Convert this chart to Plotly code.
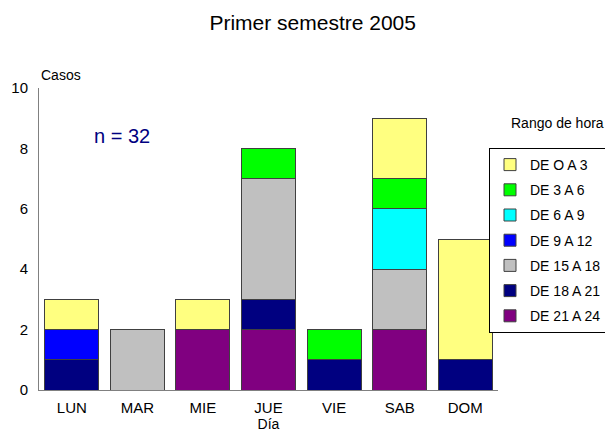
import plotly.graph_objects as go

days = ["LUN", "MAR", "MIE", "JUE", "VIE", "SAB", "DOM"]
series_names = ["DE 21 A 24", "DE 18 A 21", "DE 15 A 18", "DE 9 A 12", "DE 6 A 9", "DE 3 A 6", "DE O A 3"]
s_21_24 = [0, 0, 2, 2, 0, 2, 0]
s_18_21 = [1, 0, 0, 1, 1, 0, 1]
s_15_18 = [0, 2, 0, 4, 0, 2, 0]
s_9_12 = [1, 0, 0, 0, 0, 0, 0]
s_6_9 = [0, 0, 0, 0, 0, 2, 0]
s_3_6 = [0, 0, 0, 1, 1, 1, 0]
s_0_3 = [1, 0, 1, 0, 0, 2, 4]
series_values = [s_21_24, s_18_21, s_15_18, s_9_12, s_6_9, s_3_6, s_0_3]
colors = ["#800080", "#000080", "#C0C0C0", "#0000FF", "#00FFFF", "#00FF00", "#FFFF80"]
y_ticks = [0, 2, 4, 6, 8, 10]

font = "Liberation Sans, Arial, sans-serif"
fig = go.Figure()
n = len(series_names)
for i, (name, vals, col) in enumerate(zip(series_names, series_values, colors)):
    fig.add_trace(go.Bar(
        x=days, y=[v if v else None for v in vals], name=name,
        legendgroup=name, legendrank=n - i,
        marker=dict(color=col, line=dict(color="#404040", width=1)),
    ))

# the page body has an 8px margin; keep the figure inside the viewport (no scrollbars)
fig.update_layout(
    width=597, height=424,
    barmode="stack", bargap=0.177,
    paper_bgcolor="white", plot_bgcolor="white",
    margin=dict(l=31, r=107, t=80, b=42, autoexpand=False),
    font=dict(family=font, size=14, color="black"),
    title=dict(text="Primer semestre 2005", x=0.5104, xanchor="center", xref="container",
               y=0.9646, yanchor="middle", yref="container",
               font=dict(size=21, family=font)),
    showlegend=True,
    legend=dict(traceorder="grouped", xref="container", yref="container",
                x=0.8057, xanchor="left", y=0.6698, yanchor="top",
                bordercolor="black", borderwidth=1, bgcolor="white",
                font=dict(size=14, family=font), itemwidth=30, tracegroupgap=4),
    xaxis=dict(showline=True, linecolor="#808080", linewidth=1, ticks="", showgrid=False,
               automargin=False, tickfont=dict(size=15), ticklabelstandoff=4,
               title=dict(text="Día", font=dict(size=14), standoff=13)),
    yaxis=dict(range=[0, 10], tickvals=y_ticks, showline=True, linecolor="#808080", linewidth=1,
               ticks="", showgrid=False, zeroline=False, automargin=False,
               tickfont=dict(size=15), ticklabelstandoff=7),
    annotations=[
        dict(text="Casos", xref="paper", yref="paper", x=0.0, y=1.043, xanchor="left", yanchor="middle",
             showarrow=False, font=dict(size=14)),
        dict(text="n = 32", xref="paper", yref="paper", x=0.115, y=0.841, xanchor="left", yanchor="middle",
             showarrow=False, font=dict(size=20, color="#000080")),
        dict(text="Rango de hora", xref="paper", yref="paper", x=1.024, y=0.884, xanchor="left", yanchor="middle",
             showarrow=False, font=dict(size=14)),
    ],
)
fig.write_html("out.html")
